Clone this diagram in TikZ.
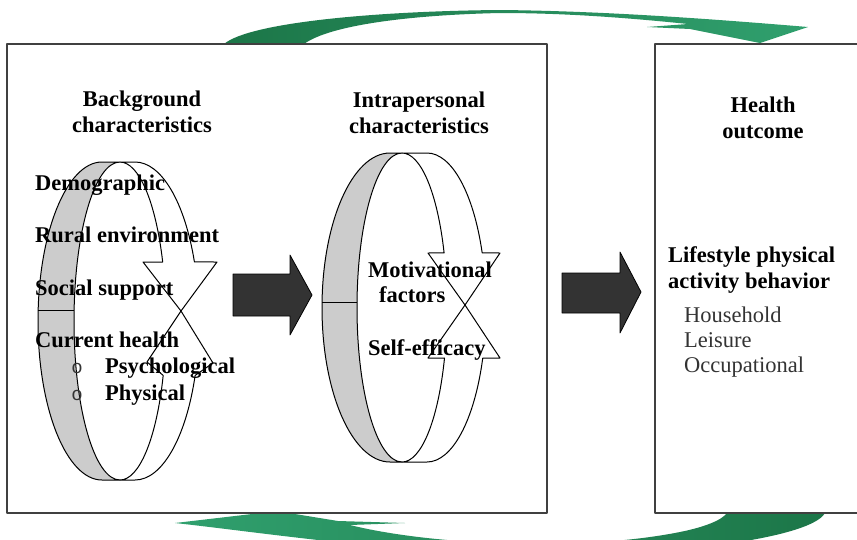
\documentclass[tikz,border=0pt]{standalone}
\usepackage{fontspec}
\setmainfont{Liberation Serif}
\newfontfamily\bulletfont{Liberation Mono}
\definecolor{ringgray}{RGB}{204,204,204}
\definecolor{arrowdark}{RGB}{28,118,72}
\definecolor{arrowlight}{RGB}{48,160,110}
\definecolor{blockgray}{RGB}{51,51,51}
\newcommand{\labelsize}{\fontsize{22.5}{26}\selectfont}

\begin{document}
\begin{tikzpicture}[x=1pt, y=-1pt, line join=round,
    ring/.style={draw=black, line width=1pt},
    block/.style={draw=black, fill=blockgray, line width=0.8pt},
    frame/.style={draw=black!75, line width=1.4pt},
    item/.style={anchor=base west, inner sep=0pt, font=\labelsize\bfseries},
    subitem/.style={anchor=base west, inner sep=0pt, font=\labelsize, text=black!80},
    heading/.style={anchor=north, inner sep=0pt, align=center, font=\labelsize\bfseries}]
  \useasboundingbox (0,0) rectangle (857,539);
  \clip (0,0) rectangle (857,539);
    % feedback arrows
    \shade[left color=arrowdark, right color=arrowlight] (224,44) .. controls (250,22) and (380,11) .. (500,10) .. controls (600,11) and (700,18) .. (808,27) -- (760,43) -- (690,29) -- (647,27) -- (688,24) .. controls (620,17) and (560,13) .. (500,13) .. controls (410,15) and (330,25) .. (304,44) -- cycle;
    \shade[left color=arrowlight, right color=arrowdark] (175,523) -- (252,514) -- (295,514) -- (338,521) -- (405,523) -- (350,525) .. controls (430,545) and (580,552) .. (680,532) .. controls (705,527) and (722,520) .. (727,513) -- (825,513) .. controls (810,540) and (650,560) .. (480,555) .. controls (340,545) and (240,530) .. cycle;
    % boxes
    \draw[frame] (7,44) rectangle (547,513);
    \draw[frame] (655,44) rectangle (880,513);
    % background ring
    \draw[ring, fill=ringgray] (102,162) arc[start angle=270, end angle=90, x radius=64, y radius=159] -- (120,480) arc[start angle=90, end angle=270, x radius=46, y radius=159] -- cycle;
    \draw[ring, fill=white] (120,162) -- (135,162) arc[start angle=270, end angle=338.2, x radius=64, y radius=159] -- (217,262) -- (181,311) -- (143,262) -- (162.7,262) arc[start angle=338.2, end angle=270, x radius=46, y radius=159] -- cycle;
    \draw[ring, fill=white] (120,480) -- (135,480) arc[start angle=90, end angle=20, x radius=64, y radius=159] -- (213,363) -- (181,311) -- (147,362) -- (163.2,375.4) arc[start angle=20, end angle=90, x radius=46, y radius=159] -- cycle;
    \draw[ring] (38.2,310) -- (74.1,310);
    % intrapersonal ring
    \draw[ring, fill=ringgray] (390,153) arc[start angle=270, end angle=90, x radius=68, y radius=154.5] -- (402,462) arc[start angle=90, end angle=270, x radius=45, y radius=154.5] -- cycle;
    \draw[ring, fill=white] (402,153) -- (427,153) arc[start angle=270, end angle=339.3, x radius=59, y radius=154.5] -- (500,253) -- (465,305) -- (428,253) -- (444.1,252.9) arc[start angle=339.3, end angle=270, x radius=45, y radius=154.5] -- cycle;
    \draw[ring, fill=white] (402,462) -- (427,462) arc[start angle=90, end angle=19.1, x radius=59, y radius=154.5] -- (500,358) -- (465,305) -- (428,358) -- (444.5,358.1) arc[start angle=19.1, end angle=90, x radius=45, y radius=154.5] -- cycle;
    \draw[ring] (322,302) -- (357,302);
    % block arrows
    \draw[block] (233,274) -- (290,274) -- (290,255) -- (312,295) -- (290,335) -- (290,316) -- (233,316) -- cycle;
    \draw[block] (562,273) -- (620,273) -- (620,252) -- (641,292) -- (620,333) -- (620,313) -- (562,313) -- cycle;
    % headings
    \node[heading] (bgtitle) at (142,91) {Background\\characteristics};
    \node[heading] (iptitle) at (419,92) {Intrapersonal\\characteristics};
    \node[heading] (hotitle) at (763,97) {Health\\outcome};
    % background items
    \foreach \txt/\yb [count=\i] in {Demographic/190, Rural environment/242, Social support/295, Current health/347}
      \node[item] (bg\i) at (35,\yb) {\txt};
    \foreach \txt/\yb [count=\i] in {Psychological/373, Physical/400} {
      \node[anchor=base, inner sep=0pt, text=black!80, font=\bulletfont\fontsize{19}{19}\selectfont] (bl\i) at (77,\yb) {o};
      \node[item] (hl\i) at (105,\yb) {\txt};
    }
    % intrapersonal items
    \node[item] (mot) at (368,277) {Motivational};
    \node[item] (fac) at (379,302) {factors};
    \node[item] (se) at (368,355) {Self-efficacy};
    % outcome items
    \node[item] (ls1) at (668,262) {Lifestyle physical};
    \node[item] (ls2) at (668,288) {activity behavior};
    \foreach \txt/\yb [count=\i] in {Household/322, Leisure/347, Occupational/372}
      \node[subitem] (act\i) at (684,\yb) {\txt};
\end{tikzpicture}
\end{document}
